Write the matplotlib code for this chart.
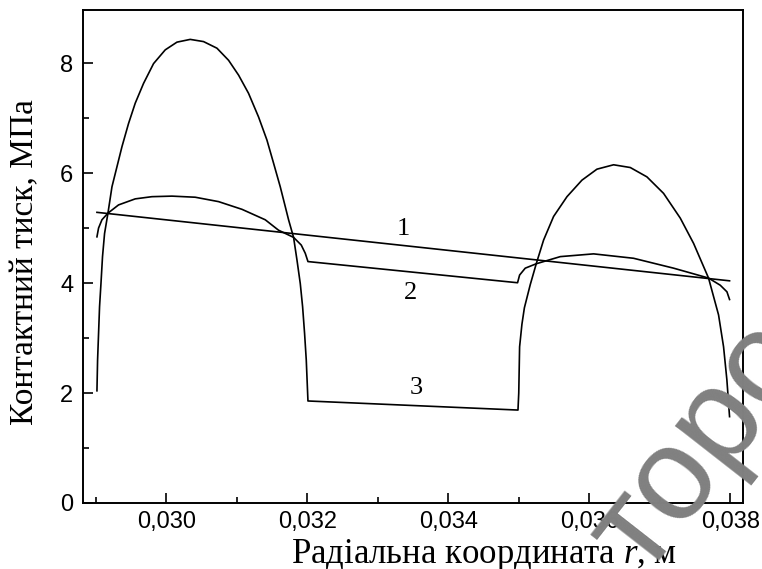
import matplotlib
matplotlib.use("Agg")
import matplotlib.pyplot as plt
from matplotlib.ticker import MultipleLocator, FuncFormatter

plt.rcParams["mathtext.fontset"] = "custom"
plt.rcParams["mathtext.rm"] = "Liberation Serif"
plt.rcParams["mathtext.it"] = "Liberation Serif:italic"

# curve 1 - linear
r1 = [0.029017, 0.03799]
p1 = [5.285, 4.04]

# curve 2
r2 = [0.029017, 0.029040, 0.029088, 0.029173, 0.029323, 0.029560, 0.029797,
      0.030081, 0.030411, 0.030742, 0.031074, 0.031404, 0.031593, 0.031806,
      0.031915, 0.031972, 0.032010,
      0.034983, 0.035012, 0.035092, 0.035248, 0.035589, 0.036061, 0.036628,
      0.037196, 0.037692, 0.037858, 0.037953, 0.037990]
p2 = [4.84, 5.00, 5.15, 5.27, 5.42, 5.53, 5.57,
      5.58, 5.56, 5.48, 5.34, 5.15, 4.96, 4.83,
      4.69, 4.54, 4.39,
      4.005, 4.145, 4.27, 4.35, 4.48, 4.53, 4.45,
      4.27, 4.09, 3.96, 3.84, 3.70]

# curve 3
r3 = [0.029017, 0.029026, 0.029040, 0.029054, 0.029074, 0.029096, 0.029125,
      0.029173, 0.029230, 0.029301, 0.029372, 0.029465, 0.029560, 0.029678,
      0.029820, 0.029986, 0.030152, 0.030340, 0.030529, 0.030719, 0.030884,
      0.031026, 0.031167, 0.031309, 0.031428, 0.031522, 0.031617, 0.031688,
      0.031735, 0.031806, 0.031854, 0.031901, 0.031934, 0.031962, 0.031986,
      0.032010,
      0.034989, 0.035000, 0.035012, 0.035045, 0.035080, 0.035163, 0.035248,
      0.035352, 0.035494, 0.035684, 0.035896, 0.036109, 0.036345, 0.036582,
      0.036818, 0.037054, 0.037291, 0.037480, 0.037692, 0.037834, 0.037905,
      0.037952, 0.037990]
p3 = [2.04, 2.60, 3.085, 3.57, 3.99, 4.48, 4.90,
      5.27, 5.75, 6.115, 6.48, 6.90, 7.27, 7.63,
      7.99, 8.24, 8.38, 8.43, 8.39, 8.27, 8.05,
      7.78, 7.45, 7.02, 6.60, 6.18, 5.75, 5.39,
      5.15, 4.83, 4.42, 3.99, 3.57, 3.085, 2.60,
      1.855,
      1.69, 2.00, 2.84, 3.25, 3.55, 3.97, 4.35,
      4.78, 5.21, 5.57, 5.87, 6.07, 6.15, 6.10,
      5.93, 5.63, 5.18, 4.72, 4.09, 3.42, 2.84,
      2.24, 1.57]

labels = ["1", "2", "3"]
label_r = [0.03336, 0.03346, 0.03355]
label_p = [4.99, 3.81, 2.085]

serif = "Liberation Serif"
sans = "Liberation Sans"

fig = plt.figure(figsize=(7.62, 5.69), dpi=100)
ax = fig.add_axes([0.109, 0.116, 0.866, 0.866])

for r, p in [(r1, p1), (r2, p2), (r3, p3)]:
    ax.plot(r, p, color="black", lw=1.2)

for t, x, y in zip(labels, label_r, label_p):
    ax.text(x, y, t, fontsize=19, family=serif, ha="center", va="center")

ax.set_xlim(0.02882, 0.03818)
ax.set_ylim(0, 8.96)
ax.xaxis.set_major_locator(MultipleLocator(0.002))
ax.xaxis.set_minor_locator(MultipleLocator(0.001))
ax.yaxis.set_major_locator(MultipleLocator(2))
ax.yaxis.set_minor_locator(MultipleLocator(1))
ax.xaxis.set_major_formatter(FuncFormatter(lambda v, pos: f"{v:.3f}".replace(".", ",")))
ax.yaxis.set_major_formatter(FuncFormatter(lambda v, pos: f"{v:.0f}"))
ax.tick_params(which="both", direction="in", width=1.2, labelsize=17)
ax.tick_params(which="major", length=7)
ax.tick_params(which="minor", length=4)
ax.tick_params(axis="x", which="major", pad=6)
ax.tick_params(axis="y", which="major", pad=7)
for lab in ax.get_xticklabels() + ax.get_yticklabels():
    lab.set_family(sans)
for s in ax.spines.values():
    s.set_linewidth(1.4)

ax.set_xlabel("Радіальна координата $\\mathit{r}$, м", fontsize=25, family=serif)
ax.xaxis.label.set_va("baseline")
ax.xaxis.set_label_coords(0.608, -0.1217)
ax.set_ylabel("Контактний тиск, МПа", fontsize=24, family=serif)
ax.yaxis.set_label_coords(-0.088, 0.489)
ax.yaxis.label.set_va("center")

# watermark in lower right corner
fig.text(0.845, -0.015, "торо", fontsize=95, color="#808080", family=sans,
         rotation=52, ha="left", va="baseline", rotation_mode="anchor")

fig.savefig("out.png", dpi=100)
